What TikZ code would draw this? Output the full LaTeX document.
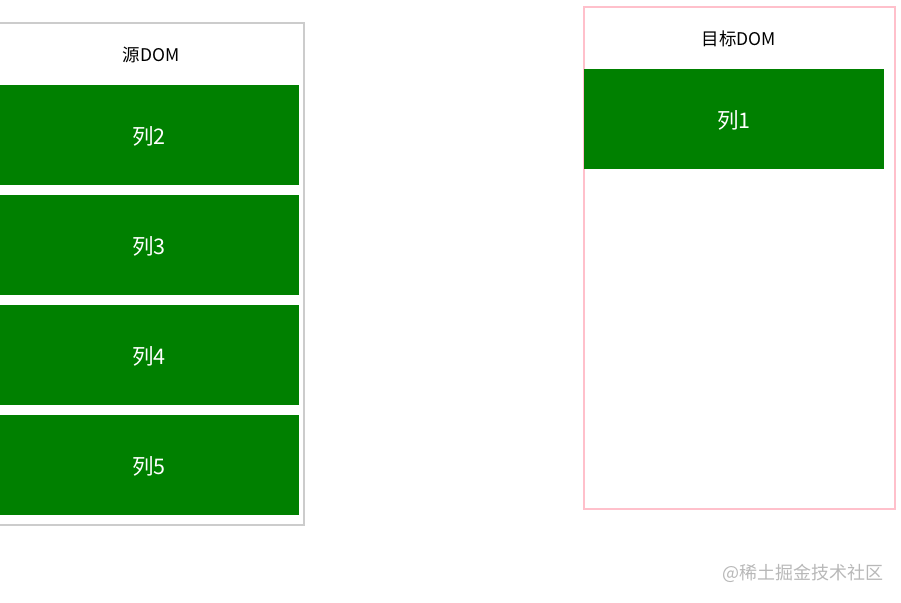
\documentclass[tikz,border=0pt]{standalone}
\usepackage{fontspec}
\setmainfont{Noto Sans CJK SC}
\definecolor{boxgreen}{HTML}{008000}
\definecolor{srcgray}{HTML}{CCCCCC}
\definecolor{tgtpink}{HTML}{FFC0CB}
\definecolor{wmgray}{HTML}{B8B8B8}
\begin{document}
\begin{tikzpicture}[x=1pt,y=-1pt,
  coltext/.style={text=white,font=\fontsize{21.5}{21.5}\selectfont,inner sep=0pt},
  titletext/.style={font=\fontsize{17.5}{17.5}\selectfont,text=black,inner sep=0pt}]
\useasboundingbox (0,0) rectangle (901,602);
% source panel
\draw[srcgray,line width=2pt] (-20,23) rectangle (304,525);
\node[titletext] (srct) at (151,55) {源DOM};
\fill[boxgreen] (-10,85) rectangle (299,185);
\node[coltext] (c2) at (149,136) {列2};
\fill[boxgreen] (-10,195) rectangle (299,295);
\node[coltext] (c3) at (149,246) {列3};
\fill[boxgreen] (-10,305) rectangle (299,405);
\node[coltext] (c4) at (149,356) {列4};
\fill[boxgreen] (-10,415) rectangle (299,515);
\node[coltext] (c5) at (149,466) {列5};
% target panel
\draw[tgtpink,line width=2pt] (583.5,7.5) rectangle (894.5,508.5);
\node[titletext] (tgtt) at (739,39) {目标DOM};
\fill[boxgreen] (584,69) rectangle (884,169);
\node[coltext] (c1) at (734,120) {列1};
% watermark
\node[text=wmgray,font=\fontsize{18}{18}\selectfont,inner sep=0pt] (wm) at (803,573) {@稀土掘金技术社区};
\end{tikzpicture}
\end{document}
